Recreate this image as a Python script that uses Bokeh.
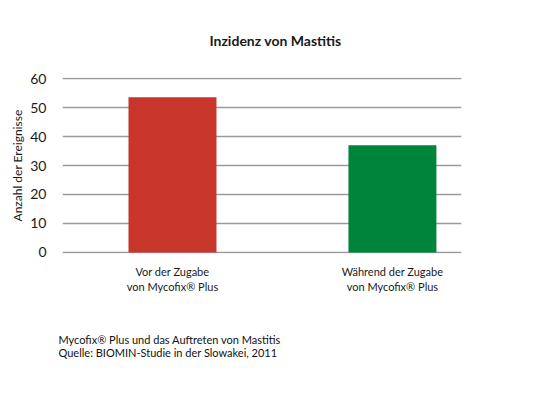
from bokeh.plotting import figure
from bokeh.models import Range1d, FixedTicker, Title, ColumnDataSource
from bokeh.embed import file_html
from bokeh.resources import INLINE

categories = ["Vor der Zugabe\nvon Mycofix® Plus", "Während der Zugabe\nvon Mycofix® Plus"]
values = [53.5, 37.0]
colors = ["#C8352B", "#00843C"]
y_ticks = [0, 10, 20, 30, 40, 50, 60]
title_text = "Inzidenz von Mastitis"
y_label = "Anzahl der Ereignisse"
notes = ["Mycofix® Plus und das Auftreten von Mastitis",
         "Quelle: BIOMIN-Studie in der Slowakei, 2011"]

FONT = "Lato"
TXT = "#1a1a1a"

xs = list(range(len(categories)))
src = ColumnDataSource(dict(x=xs, top=values, color=colors))

p = figure(frame_width=399, frame_height=176, output_backend="svg", toolbar_location=None,
           x_range=Range1d(-0.5, 1.314), y_range=Range1d(-0.35, 60.35),
           min_border_left=62, min_border_right=46, min_border_top=76, min_border_bottom=110)
p.outline_line_color = None
p.background_fill_color = "white"
p.border_fill_color = "white"

p.vbar(x="x", top="top", bottom=0, width=0.40, color="color", line_color=None, source=src)

# y axis
p.yaxis.ticker = FixedTicker(ticks=y_ticks)
p.yaxis.axis_line_color = None
p.yaxis.major_tick_line_color = None
p.yaxis.minor_tick_line_color = None
p.yaxis.major_label_text_font = FONT
p.yaxis.major_label_text_font_size = "14px"
p.yaxis.major_label_text_color = TXT
p.yaxis.major_label_standoff = 10
p.yaxis.axis_label = y_label
p.yaxis.axis_label_text_font = FONT
p.yaxis.axis_label_text_font_size = "12px"
p.yaxis.axis_label_text_font_style = "normal"
p.yaxis.axis_label_text_color = TXT
p.yaxis.axis_label_standoff = 2

# x axis
p.xaxis.ticker = FixedTicker(ticks=xs)
p.xaxis.major_label_overrides = {i: c for i, c in zip(xs, categories)}
p.xaxis.axis_line_color = None
p.xaxis.major_tick_line_color = None
p.xaxis.minor_tick_line_color = None
p.xaxis.major_label_text_font = FONT
p.xaxis.major_label_text_font_size = "11px"
p.xaxis.major_label_text_color = TXT
p.xaxis.major_label_standoff = 5

# grid
p.xgrid.grid_line_color = None
p.ygrid.ticker = FixedTicker(ticks=y_ticks)
p.ygrid.grid_line_color = "#9a9a9a"
p.ygrid.grid_line_width = 1.5

# title
t = Title(text=title_text, align="left", offset=147, standoff=58,
          text_font=FONT, text_font_size="14px", text_font_style="bold", text_color=TXT)
p.add_layout(t, "above")

# footnotes
ft = Title(text="\n".join(notes), align="left", offset=-4, standoff=68,
           text_font=FONT, text_font_size="11px", text_font_style="normal",
           text_color="#111", text_line_height=1.0)
p.add_layout(ft, "below")

open("out.html", "w").write(file_html(p, INLINE))
